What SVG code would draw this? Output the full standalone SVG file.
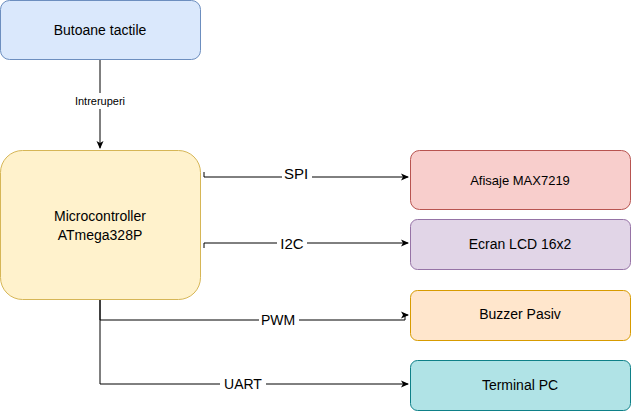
<svg xmlns="http://www.w3.org/2000/svg" width="631" height="411" viewBox="0 0 631 411">
<style>
text{font-family:"Liberation Sans",Arial,sans-serif;fill:#000;text-anchor:middle;dominant-baseline:central}
.n{font-size:14px}
.l{fill:none;stroke:#000;stroke-width:1}
.lb{fill:#fff}
</style>
<defs><marker id="a" markerWidth="8" markerHeight="8" refX="7" refY="4" orient="auto" markerUnits="userSpaceOnUse"><path d="M0,0.5 L8,4 L0,7.5 L2,4 Z" fill="#000"/></marker></defs>
<rect width="631" height="411" fill="#fff"/>
<g id="connectors">
<path class="l" d="M100,60 V148" marker-end="url(#a)"/>
<rect class="lb" x="68" y="93" width="64" height="16"/><text x="100" y="101" style="font-size:11px">Intreruperi</text>
<path class="l" d="M204,172 V177 H408" marker-end="url(#a)"/>
<rect class="lb" x="282" y="164" width="30" height="18"/><text x="296" y="173" style="font-size:15px">SPI</text>
<path class="l" d="M204,248 V243 H408" marker-end="url(#a)"/>
<rect class="lb" x="277" y="234" width="30" height="18"/><text x="292" y="243" style="font-size:15px">I2C</text>
<path class="l" d="M100,300 V320 H405 V315 H408" marker-end="url(#a)"/>
<rect class="lb" x="259" y="312" width="40" height="16"/><text x="278" y="320" class="n">PWM</text>
<path class="l" d="M100,300 V384 H408" marker-end="url(#a)"/>
<rect class="lb" x="220" y="376" width="46" height="16"/><text x="243" y="384" class="n">UART</text>
</g>
<g id="butoane"><rect x="0.5" y="0.5" width="200" height="59" rx="9" fill="#dae8fc" stroke="#6c8ebf"/><text x="100" y="30" class="n">Butoane tactile</text></g>
<g id="mcu"><rect x="0.5" y="150.5" width="200" height="149" rx="22" fill="#fff2cc" stroke="#d6b656"/><text x="100" y="216" class="n">Microcontroller</text><text x="100" y="235" class="n">ATmega328P</text></g>
<g id="max"><rect x="410.5" y="150.5" width="220" height="59" rx="9" fill="#f8cecc" stroke="#b85450"/><text x="520" y="180" style="font-size:13px">Afisaje MAX7219</text></g>
<g id="lcd"><rect x="410.5" y="219.5" width="220" height="50" rx="7" fill="#e1d5e7" stroke="#9673a6"/><text x="520" y="244" class="n">Ecran LCD 16x2</text></g>
<g id="buzzer"><rect x="410.5" y="290.5" width="220" height="50" rx="7" fill="#ffe6cc" stroke="#d79b00"/><text x="520" y="314" class="n">Buzzer Pasiv</text></g>
<g id="pc"><rect x="410.5" y="360.5" width="220" height="50" rx="7" fill="#b0e3e6" stroke="#0e8088"/><text x="520" y="385" class="n">Terminal PC</text></g>
</svg>
